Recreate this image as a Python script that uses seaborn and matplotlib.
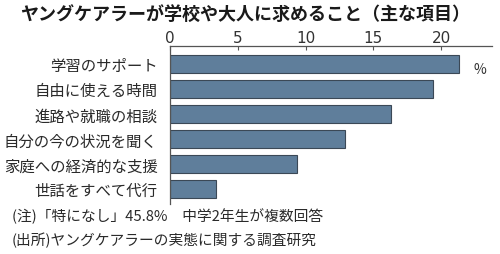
import matplotlib
matplotlib.use("Agg")
import matplotlib.pyplot as plt
import seaborn as sns
import pandas as pd

categories = ["学習のサポート", "自由に使える時間", "進路や就職の相談",
              "自分の今の状況を聞く", "家庭への経済的な支援", "世話をすべて代行"]
values = [21.3, 19.4, 16.3, 12.9, 9.4, 3.4]
xticks = [0, 5, 10, 15, 20]
title = "ヤングケアラーが学校や大人に求めること（主な項目）"
note1 = "(注)「特になし」45.8%　中学2年生が複数回答"
note2 = "(出所)ヤングケアラーの実態に関する調査研究"
unit = "%"

sns.set_theme(style="white")
plt.rcParams["font.family"] = ["Noto Sans CJK JP", "DejaVu Sans"]

df = pd.DataFrame({"cat": categories, "val": values})

fig = plt.figure(figsize=(5.0, 2.55), dpi=100)
fig.patch.set_facecolor("white")
ax = fig.add_axes([0.34, 0.196, 0.644, 0.62])

sns.barplot(data=df, x="val", y="cat", order=categories, color="#5f7e9b",
            saturation=1, width=0.71, edgecolor="#3b4856", linewidth=0.8, ax=ax)

ax.set_xlim(0, 23.76)
ax.set_ylim(5.61, -0.72)
ax.set_xticks(xticks)
ax.set_xticklabels([str(t) for t in xticks], family=["Liberation Sans Narrow", "DejaVu Sans"],
                   fontsize=11, color="#333333")
ax.xaxis.tick_top()
ax.tick_params(axis="x", which="both", top=True, bottom=False, direction="in",
               length=3, width=0.8, color="#555555", pad=1)
ax.tick_params(axis="y", left=False, pad=3, labelsize=11.1, labelcolor="#2a2a2a")
ax.set_xlabel("")
ax.set_ylabel("")
for s in ["right", "bottom"]:
    ax.spines[s].set_visible(False)
for s in ["top", "left"]:
    ax.spines[s].set_color("#555555")
    ax.spines[s].set_linewidth(0.9)

fig.text(0.49, 0.945, title, ha="center", va="center", fontsize=13,
         fontweight="bold", color="#1a1a1a")
fig.text(0.96, 0.725, unit, ha="center", va="center", fontsize=10, color="#333333")
fig.text(0.024, 0.152, note1, ha="left", va="center", fontsize=10.6, color="#2a2a2a")
fig.text(0.024, 0.057, note2, ha="left", va="center", fontsize=10.6, color="#2a2a2a")

fig.savefig("out.png", dpi=100, facecolor="white")
